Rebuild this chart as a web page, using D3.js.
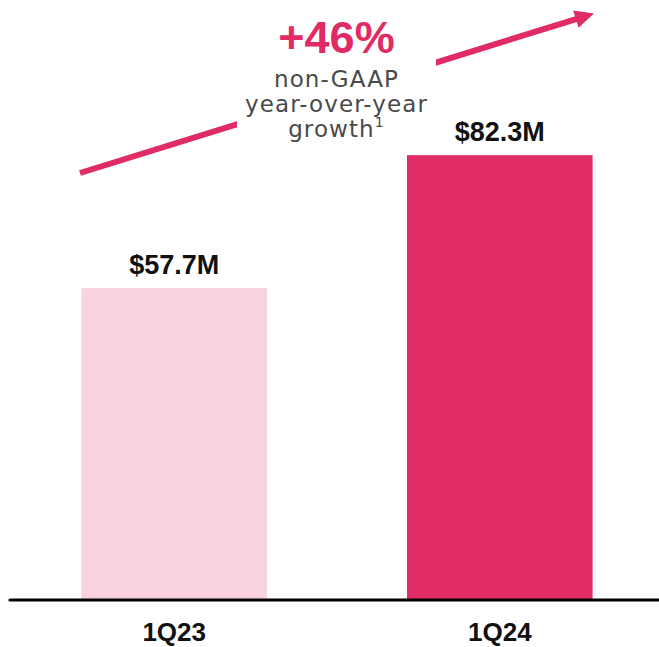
<!DOCTYPE html>
<html>
<head>
<meta charset="utf-8">
<script src="https://cdn.jsdelivr.net/npm/d3@7"></script>
<style>
  html, body { margin: 0; padding: 0; background: #ffffff; }
  svg { display: block; }
</style>
</head>
<body>
<div id="chart"></div>
<script>
// Quarterly non-GAAP figures, $M
const quarters = ["1Q23", "1Q24"];
const values = [57.7, 82.3];
const valueLabels = ["$57.7M", "$82.3M"];
const barColors = ["#F8D3DF", "#E02B64"];
const growthLabel = "+46%";
const growthText = ["non-GAAP", "year-over-year", "growth"];
const growthNote = "1";

const W = 659, H = 647;
const baseY = 600;
const pink = "#E02B64";

const svg = d3.select("#chart").append("svg")
  .attr("width", W).attr("height", H);

const x = d3.scaleBand()
  .domain(quarters)
  .range([0, 674])
  .paddingInner(0.43)
  .paddingOuter(0.25);

const y = d3.scaleLinear()
  .domain([0, 111])
  .range([baseY, 0]);

const data = quarters.map((q, i) => ({ q, v: values[i], label: valueLabels[i], color: barColors[i] }));

// Bars
svg.append("g").selectAll("rect")
  .data(data).join("rect")
  .attr("x", d => x(d.q))
  .attr("y", d => y(d.v))
  .attr("width", x.bandwidth())
  .attr("height", d => baseY - y(d.v))
  .attr("fill", d => d.color);

// Value labels above bars
svg.append("g").selectAll("text")
  .data(data).join("text")
  .attr("x", d => x(d.q) + x.bandwidth() / 2)
  .attr("y", d => y(d.v) - 14)
  .attr("text-anchor", "middle")
  .attr("font-family", "'Liberation Sans', Arial, sans-serif")
  .attr("font-weight", "bold")
  .attr("font-size", 27)
  .attr("fill", "#111111")
  .text(d => d.label);

// Category axis under the baseline
const xAxis = d3.axisBottom(x).tickSize(0).tickPadding(0);
const axisG = svg.append("g")
  .attr("transform", `translate(0,${baseY})`)
  .call(xAxis);
axisG.select(".domain").remove();
axisG.selectAll("text")
  .attr("y", 41)
  .attr("dy", 0)
  .attr("font-family", "'Liberation Sans', Arial, sans-serif")
  .attr("font-weight", "bold")
  .attr("font-size", 26)
  .attr("fill", "#111111");

svg.append("line")
  .attr("x1", 10).attr("x2", W + 5)
  .attr("y1", baseY).attr("y2", baseY)
  .attr("stroke", "#000000")
  .attr("stroke-width", 3.2)
  .attr("stroke-linecap", "round");

// Growth arrow
const a0 = [80, 173], a1 = [594, 13.5];
const ang = Math.atan2(a1[1] - a0[1], a1[0] - a0[0]);
const headLen = 19, headHalf = 9;
const hb = [a1[0] - headLen * Math.cos(ang), a1[1] - headLen * Math.sin(ang)];
svg.append("line")
  .attr("x1", a0[0]).attr("y1", a0[1])
  .attr("x2", hb[0] + 2 * Math.cos(ang)).attr("y2", hb[1] + 2 * Math.sin(ang))
  .attr("stroke", pink)
  .attr("stroke-width", 6);
const nx = -Math.sin(ang), ny = Math.cos(ang);
svg.append("path")
  .attr("d", d3.line()([
    a1,
    [hb[0] + nx * headHalf, hb[1] + ny * headHalf],
    [hb[0] - nx * headHalf, hb[1] - ny * headHalf]
  ]) + "Z")
  .attr("fill", pink);

// Growth callout, knocked out of the arrow
svg.append("rect")
  .attr("x", 237).attr("y", 15)
  .attr("width", 199).attr("height", 132)
  .attr("fill", "#ffffff");

const cx = 336.5;
svg.append("text")
  .attr("x", cx).attr("y", 53)
  .attr("text-anchor", "middle")
  .attr("font-family", "'Liberation Sans', Arial, sans-serif")
  .attr("font-weight", "bold")
  .attr("font-size", 45)
  .attr("fill", pink)
  .text(growthLabel);

const sub = svg.append("g")
  .attr("font-family", "'DejaVu Sans', sans-serif")
  .attr("font-weight", 400)
  .attr("font-size", 23)
  .attr("letter-spacing", 1.1)
  .attr("fill", "#4a4a4a")
  .attr("text-anchor", "middle");

growthText.forEach((t, i) => {
  const tx = sub.append("text")
    .attr("x", cx)
    .attr("y", 86.5 + i * 25)
    .text(t);
  if (i === growthText.length - 1) {
    tx.append("tspan")
      .attr("font-size", 14)
      .attr("dy", -10)
      .text(growthNote);
  }
});
</script>
</body>
</html>
